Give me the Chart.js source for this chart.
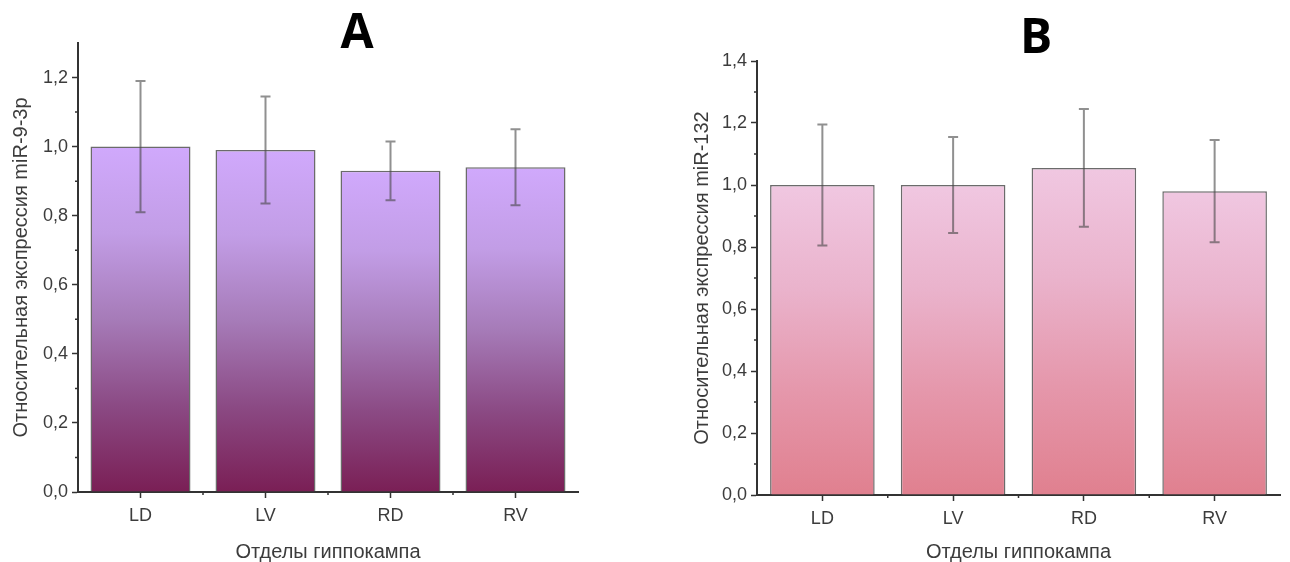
<!DOCTYPE html>
<html lang="ru">

<head>
    <meta charset="UTF-8">
    <script src="https://cdn.jsdelivr.net/npm/chart.js"></script>
    <title>miR</title>
    <style>
        body { margin: 0; background: #fff; }
        .panel { position: absolute; top: 0; width: 645px; height: 562px; }
        #panelA { left: 0; }
        #panelB { left: 645px; }
    </style>
</head>

<body>

    <div class="panel" id="panelA"><canvas id="grafico_A" width="645" height="562"></canvas></div>
    <div class="panel" id="panelB"><canvas id="grafico_B" width="645" height="562"></canvas></div>

    <script>

        const categorias = ['LD', 'LV', 'RD', 'RV'];

        const mediasA = [1.00, 0.99, 0.93, 0.94];
        const errosA = [0.19, 0.155, 0.085, 0.11];

        const mediasB = [1.00, 1.00, 1.055, 0.98];
        const errosB = [0.195, 0.155, 0.19, 0.165];

        const tituloYA = 'Относительная экспрессия miR-9-3p';
        const tituloYB = 'Относительная экспрессия miR-132';
        const tituloX = 'Отделы гиппокампа';

        const corTexto = '#3c3c3c';
        const corEixo = '#333';

        const fmt = v => v.toFixed(1).replace('.', ',');

        // error bars + minor ticks + panel letter
        const extras = {
            id: 'extras',
            afterDatasetsDraw(chart, args, o) {
                const { ctx, scales: { x, y } } = chart;
                const meta = chart.getDatasetMeta(0);
                ctx.save();
                ctx.strokeStyle = 'rgba(70,70,70,0.6)';
                ctx.lineWidth = 2;
                meta.data.forEach((bar, i) => {
                    const m = o.medias[i], e = o.erros[i];
                    const yt = y.getPixelForValue(m + e);
                    const yb = y.getPixelForValue(m - e);
                    ctx.beginPath();
                    ctx.moveTo(bar.x, yt); ctx.lineTo(bar.x, yb);
                    ctx.moveTo(bar.x - 5, yt); ctx.lineTo(bar.x + 5, yt);
                    ctx.moveTo(bar.x - 5, yb); ctx.lineTo(bar.x + 5, yb);
                    ctx.stroke();
                });
                ctx.restore();
            },
            afterDraw(chart, args, o) {
                const { ctx, scales: { x, y }, chartArea } = chart;
                ctx.save();
                ctx.strokeStyle = corEixo;
                ctx.lineWidth = 1.5;
                ctx.beginPath();
                for (let k = 1; k * 0.1 < y.max - 0.01; k += 2) {
                    const py = y.getPixelForValue(k * 0.1);
                    ctx.moveTo(chartArea.left - 3, py); ctx.lineTo(chartArea.left, py);
                }
                const meia = (x.getPixelForValue(1) - x.getPixelForValue(0)) / 2;
                for (let i = 0; i < categorias.length - 1; i++) {
                    const px = x.getPixelForValue(i) + meia;
                    ctx.moveTo(px, chartArea.bottom); ctx.lineTo(px, chartArea.bottom + 3);
                }
                ctx.stroke();

                ctx.fillStyle = '#000';
                ctx.font = 'bold 48px "Open Sans"';
                ctx.textAlign = 'center';
                ctx.textBaseline = 'alphabetic';
                ctx.fillText(o.letra, o.letraX, o.letraY);
                ctx.restore();
            }
        };

        function criaGrafico(id, cfg) {
            const c = document.getElementById(id);
            return new Chart(c, {
                type: 'bar',
                data: {
                    labels: categorias,
                    datasets: [{
                        data: cfg.medias,
                        backgroundColor: (context) => {
                            const chart = context.chart;
                            const { chartArea, scales } = chart;
                            if (!chartArea || context.type !== 'data') return cfg.cores[0];
                            const yt = scales.y.getPixelForValue(context.raw);
                            const yb = scales.y.getPixelForValue(0);
                            const g = chart.ctx.createLinearGradient(0, yt, 0, yb);
                            cfg.cores.forEach((cor, i) => g.addColorStop(i / (cfg.cores.length - 1), cor));
                            return g;
                        },
                        borderColor: 'rgba(70,70,70,0.8)',
                        borderWidth: 1.5,
                        borderSkipped: 'bottom',
                        barPercentage: 0.8,
                        categoryPercentage: 1.0
                    }]
                },
                options: {
                    responsive: false,
                    animation: false,
                    devicePixelRatio: 1,
                    layout: { padding: { top: cfg.top, right: cfg.right, left: 0, bottom: 0 } },
                    plugins: {
                        legend: { display: false },
                        tooltip: { enabled: false },
                        extras: { medias: cfg.medias, erros: cfg.erros, letra: cfg.letra, letraX: cfg.letraX, letraY: cfg.letraY }
                    },
                    scales: {
                        x: {
                            offset: true,
                            grid: { display: true, drawOnChartArea: false, offset: false, tickLength: 6, tickColor: corEixo, tickWidth: 1.5 },
                            border: { color: corEixo, width: 2 },
                            ticks: { color: corTexto, font: { family: 'Liberation Sans', size: 18 }, padding: 7 },
                            title: { display: true, text: tituloX, color: corTexto, font: { family: 'Liberation Sans', size: 20, lineHeight: 1 }, padding: { top: 0, bottom: 0 } },
                            afterFit: s => { s.height = cfg.xAltura; }
                        },
                        y: {
                            min: 0,
                            max: cfg.max,
                            grid: { display: true, drawOnChartArea: false, tickLength: 6, tickColor: corEixo, tickWidth: 1.5 },
                            border: { color: corEixo, width: 2 },
                            ticks: { stepSize: 0.2, color: corTexto, font: { family: 'Liberation Sans', size: 18 }, padding: 4, callback: v => fmt(v) },
                            afterBuildTicks: s => { s.ticks = s.ticks.filter(t => Math.abs(t.value * 5 - Math.round(t.value * 5)) < 1e-6); },
                            title: { display: true, text: cfg.tituloY, color: corTexto, font: { family: 'Liberation Sans', size: 20, lineHeight: 1 }, padding: { top: cfg.yTitPad, bottom: 0 } },
                            afterFit: s => { s.width = cfg.yLargura; }
                        }
                    }
                },
                plugins: [extras]
            });
        }

        criaGrafico('grafico_A', {
            medias: mediasA, erros: errosA, max: 1.3, tituloY: tituloYA,
            cores: ['#d0a9fc', '#c29de6', '#a67bb8', '#8b4a84', '#7a1f55'],
            top: 43, right: 67, xAltura: 70, yLargura: 78, yTitPad: 11,
            letra: 'A', letraX: 357, letraY: 48
        });

        criaGrafico('grafico_B', {
            medias: mediasB, erros: errosB, max: 1.4, tituloY: tituloYB,
            cores: ['#f0c7e1', '#eab3cc', '#e597ab', '#e0808f'],
            top: 61, right: 10, xAltura: 67, yLargura: 112, yTitPad: 47,
            letra: 'B', letraX: 391, letraY: 53
        });

    </script>

</body>

</html>
